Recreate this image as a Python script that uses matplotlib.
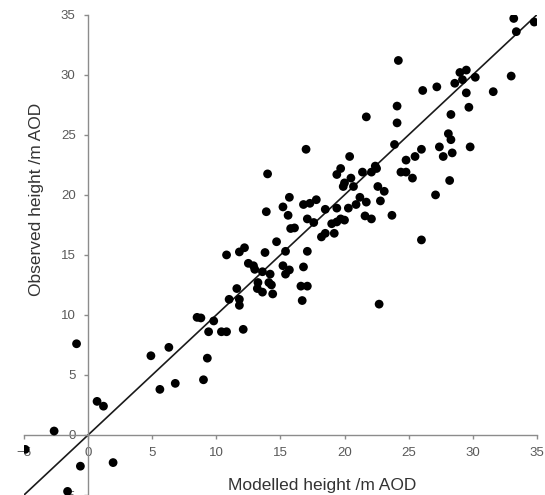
import matplotlib.pyplot as plt
import numpy as np

# values (modelled vs observed height, m AOD)
modelled = [33.2, 34.8, 33.4, 24.2, 29.0, 29.5, 29.2, 30.2, 28.6, 33.0,
            26.1, 27.2, 29.5, 31.6, 24.1, 29.7, 21.7, 28.3, 24.1, 23.9,
            28.1, 28.3, 27.4, 26.0, 29.8, 17.0, 20.4, 28.4, 27.7, 25.5,
            24.8, 19.7, 19.4, 20.5, 21.4, 22.4, 22.5, 22.1, 24.4, 24.8,
            25.3, 20.0, 19.9, 20.7, 22.6, 23.1, 28.2, 15.7, 17.8, 21.2,
            27.1, 22.8, 16.8, 17.3, 18.5, 19.4, 20.3, 20.9, 21.7, 17.1,
            17.6, 19.0, 19.4, 19.7, 20.0, 21.6, 22.1, 23.7, 18.2, 18.5,
            19.2, 26.0, 17.1, 16.8, 16.6, 17.1, 16.7, 22.7, 13.9, 15.2,
            15.6, 15.8, 16.1, 10.8, 11.8, 12.2, 13.8, 14.7, 15.4, 12.5,
            12.9, 13.0, 13.6, 14.2, 15.2, 15.4, 15.7, 13.25, 14.1, 14.3,
            13.2, 13.6, 14.4, 11.6, 11.0, 11.8, 11.8, 12.1, 8.5, 8.8,
            9.8, 9.4, 10.4, 10.8, 6.3, 4.9, 9.3, 6.8, 5.6, 9.0,
            0.7, 1.2, -2.65, -4.9, -0.6, 1.95, -1.6, -0.9, 14.0]
observed = [34.7, 34.4, 33.6, 31.2, 30.2, 30.4, 29.6, 29.8, 29.3, 29.9,
            28.7, 29.0, 28.5, 28.6, 27.4, 27.3, 26.5, 26.7, 26.0, 24.2,
            25.1, 24.6, 24.0, 23.8, 24.0, 23.8, 23.2, 23.5, 23.2, 23.2,
            22.9, 22.2, 21.7, 21.4, 21.9, 22.4, 22.2, 21.9, 21.9, 21.9,
            21.4, 21.0, 20.7, 20.7, 20.7, 20.3, 21.2, 19.8, 19.6, 19.8,
            20.0, 19.5, 19.2, 19.3, 18.8, 18.9, 18.9, 19.2, 19.4, 18.0,
            17.7, 17.6, 17.75, 18.0, 17.9, 18.25, 18.0, 18.3, 16.5, 16.8,
            16.8, 16.25, 15.3, 14.0, 12.4, 12.4, 11.2, 10.9, 18.6, 19.0,
            18.3, 17.2, 17.25, 15.0, 15.25, 15.6, 15.2, 16.1, 15.3, 14.3,
            14.1, 13.8, 13.6, 13.4, 14.1, 13.4, 13.75, 12.7, 12.7, 12.5,
            12.2, 11.9, 11.75, 12.2, 11.3, 11.3, 10.8, 8.8, 9.8, 9.75,
            9.5, 8.6, 8.6, 8.6, 7.3, 6.6, 6.4, 4.3, 3.8, 4.6,
            2.8, 2.4, 0.33, -1.2, -2.6, -2.3, -4.7, 7.6, 21.75]

ticks = [-5, 0, 5, 10, 15, 20, 25, 30, 35]
one_to_one = [-5, 35]

plt.rcParams['font.family'] = ['Liberation Sans', 'DejaVu Sans']

fig = plt.figure(figsize=(5.45, 4.95), dpi=100)
ax = fig.add_axes([0.044, 0.0, 0.941, 0.970])

ax.plot(one_to_one, one_to_one, color='#1a1a1a', lw=1.2, zorder=2)
ax.scatter(modelled, observed, s=40, color='black', edgecolors='none', zorder=3)

ax.set_xlim(-5, 35)
ax.set_ylim(-5, 35)
ax.set_xticks(ticks)
ax.set_yticks(ticks)

# axes cross at the origin
for side in ['top', 'right']:
    ax.spines[side].set_visible(False)
for side in ['left', 'bottom']:
    ax.spines[side].set_position(('data', 0))
    ax.spines[side].set_color('#8c8c8c')
    ax.spines[side].set_linewidth(1.0)
ax.tick_params(direction='out', length=3, width=1.0, color='#8c8c8c',
               labelsize=9.5, labelcolor='#595959', pad=6)

ax.set_xlabel('Modelled height /m AOD', fontsize=12.5, color='#333333')
ax.xaxis.set_label_coords(0.581, 0.02)
ax.xaxis.label.set_va('center')
ax.set_ylabel('Observed height /m AOD', fontsize=12.5, color='#333333')
ax.yaxis.set_label_coords(0.025, 0.615)
ax.yaxis.label.set_va('center')

fig.savefig('out.png', dpi=100)
